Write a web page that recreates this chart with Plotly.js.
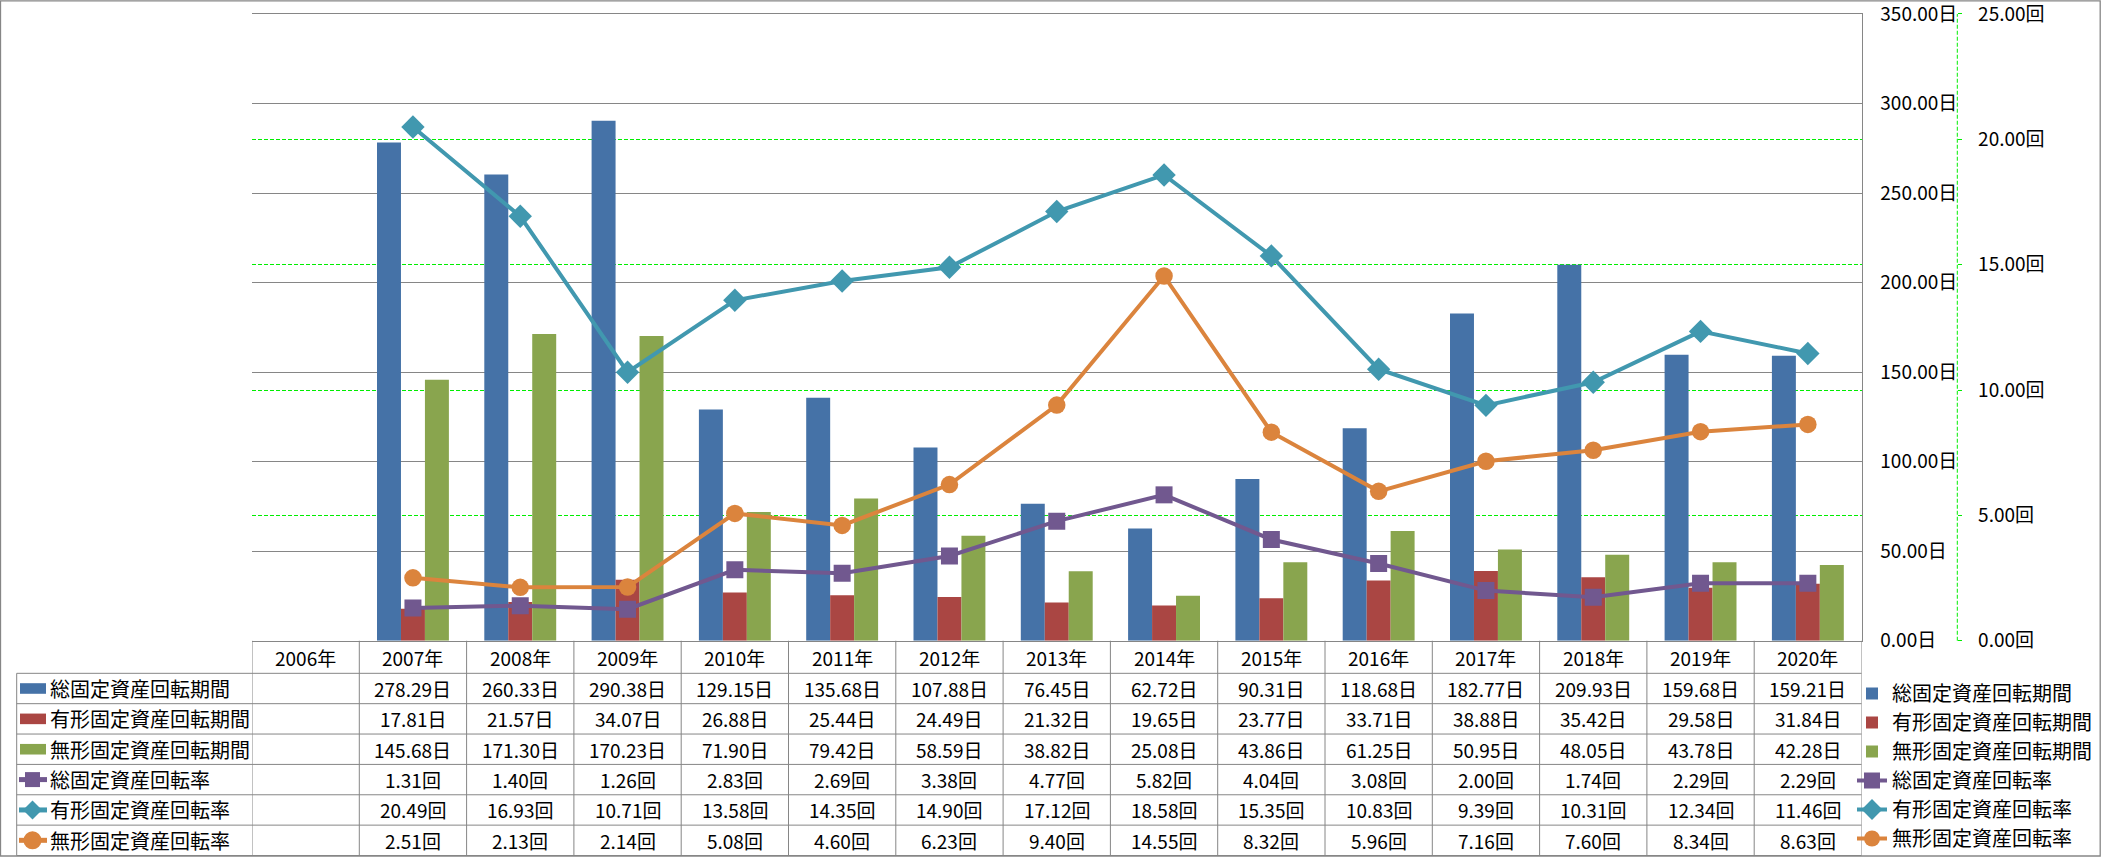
<!DOCTYPE html>
<html>
<head>
<meta charset="utf-8">
<script src="https://cdn.plot.ly/plotly-3.0.1.min.js"></script>
<style>html,body{margin:0;padding:0;background:#fff;}#chart{width:2101px;height:858px;}</style>
</head>
<body>
<div id="chart"></div>
<script>
// ---------- data ----------
const categories = ['2006年','2007年','2008年','2009年','2010年','2011年','2012年','2013年','2014年','2015年','2016年','2017年','2018年','2019年','2020年'];
const seriesNames = ['総固定資産回転期間','有形固定資産回転期間','無形固定資産回転期間','総固定資産回転率','有形固定資産回転率','無形固定資産回転率'];
const totalDays        = [null,278.29,260.33,290.38,129.15,135.68,107.88,76.45,62.72,90.31,118.68,182.77,209.93,159.68,159.21];
const tangibleDays     = [null,17.81,21.57,34.07,26.88,25.44,24.49,21.32,19.65,23.77,33.71,38.88,35.42,29.58,31.84];
const intangibleDays   = [null,145.68,171.30,170.23,71.90,79.42,58.59,38.82,25.08,43.86,61.25,50.95,48.05,43.78,42.28];
const totalTurnover    = [null,1.31,1.40,1.26,2.83,2.69,3.38,4.77,5.82,4.04,3.08,2.00,1.74,2.29,2.29];
const tangibleTurnover = [null,20.49,16.93,10.71,13.58,14.35,14.90,17.12,18.58,15.35,10.83,9.39,10.31,12.34,11.46];
const intangibleTurnover=[null,2.51,2.13,2.14,5.08,4.60,6.23,9.40,14.55,8.32,5.96,7.16,7.60,8.34,8.63];
const dayTicks   = [0, 50, 100, 150, 200, 250, 300, 350];
const timesTicks = [0, 5, 10, 15, 20, 25];
const dayUnit = '日';
const timesUnit = '回';

// ---------- styling ----------
const W = 2101, H = 858;
const FONT = '"Noto Sans CJK JP", "Noto Sans", sans-serif';
const GRAY = '#868686';
const GREEN = '#00EE00';
const colors = ['#4572A7','#AA4643','#89A54E','#71588F','#4198AF','#DB843D'];
const px = x => x / W;
const py = y => 1 - y / H;

const plotLeft = 252, plotRight = 1861.5, plotTop = 14, plotBottom = 641.5;
const tableLeft = 16.7, headerH = 32.6, rowH = 30.4;
const edges = [plotBottom];
edges.push(plotBottom + headerH);
for (let i = 0; i < 6; i++) edges.push(edges[edges.length - 1] + rowH);

const barSeries = [totalDays, tangibleDays, intangibleDays];
const lineSeries = [totalTurnover, tangibleTurnover, intangibleTurnover];
const lineSymbols = ['square','diamond','circle'];
const lineSizes = [17, 18, 17.5];

const traces = [];
barSeries.forEach((vals, i) => {
  traces.push({
    type: 'bar', name: seriesNames[i], x: categories, y: vals,
    marker: {color: colors[i]}, yaxis: 'y', legendgroup: 'g' + i,
    hoverinfo: 'skip'
  });
});
lineSeries.forEach((vals, i) => {
  traces.push({
    type: 'scatter', mode: 'lines+markers', name: seriesNames[3 + i], x: categories, y: vals,
    yaxis: 'y2', line: {color: colors[3 + i], width: 4},
    marker: {symbol: lineSymbols[i], size: lineSizes[i], color: colors[3 + i]},
    legendgroup: 'g' + (3 + i), hoverinfo: 'skip'
  });
});

// ---------- data table (annotations + shapes) ----------
const annotations = [];
const shapes = [];
const rowCenter = r => py((edges[r] + edges[r + 1]) / 2);

categories.forEach(c => {
  annotations.push({xref: 'x', yref: 'paper', x: c, y: rowCenter(0), text: c, showarrow: false,
    xanchor: 'center', yanchor: 'middle', font: {family: FONT, size: 19, color: '#000'}});
});
const allSeries = [totalDays, tangibleDays, intangibleDays, totalTurnover, tangibleTurnover, intangibleTurnover];
allSeries.forEach((vals, s) => {
  const unit = s < 3 ? dayUnit : timesUnit;
  annotations.push({xref: 'paper', yref: 'paper', x: px(48), y: rowCenter(s + 1), text: seriesNames[s],
    showarrow: false, xanchor: 'left', yanchor: 'middle', font: {family: FONT, size: 20, color: '#000'}});
  vals.forEach((v, i) => {
    if (v === null) return;
    annotations.push({xref: 'x', yref: 'paper', x: categories[i], y: rowCenter(s + 1), text: v.toFixed(2) + unit,
      showarrow: false, xanchor: 'center', yanchor: 'middle', font: {family: FONT, size: 19, color: '#000'}});
  });
});

// table grid lines
for (let r = 1; r < edges.length; r++) {
  shapes.push({type: 'line', xref: 'paper', yref: 'paper', x0: px(tableLeft), x1: px(plotRight),
    y0: py(edges[r]), y1: py(edges[r]), line: {color: GRAY, width: 1}});
}
shapes.push({type: 'line', xref: 'paper', yref: 'paper', x0: px(tableLeft), x1: px(tableLeft),
  y0: py(edges[1]), y1: py(edges[edges.length - 1]), line: {color: GRAY, width: 1}});
for (let k = 0; k <= categories.length; k++) {
  shapes.push({type: 'line', xref: 'x', yref: 'paper', x0: k - 0.5, x1: k - 0.5,
    y0: py(edges[0]), y1: py(edges[edges.length - 1]), line: {color: GRAY, width: 1}});
}
// legend keys inside the table's first column
const keyL = 19, keyR = 46, keyC = 32.5;
for (let s = 0; s < 6; s++) {
  const cy = (edges[s + 1] + edges[s + 2]) / 2;
  if (s < 3) {
    shapes.push({type: 'rect', xref: 'paper', yref: 'paper', x0: px(keyL + 1), x1: px(keyR), y0: py(cy - 5.3), y1: py(cy + 5.3),
      fillcolor: colors[s], line: {width: 0}});
  } else {
    shapes.push({type: 'line', xref: 'paper', yref: 'paper', x0: px(keyL), x1: px(keyR + 1), y0: py(cy), y1: py(cy),
      line: {color: colors[s], width: 5}});
    if (s === 3) {
      shapes.push({type: 'rect', xref: 'paper', yref: 'paper', x0: px(keyC - 7.5), x1: px(keyC + 7.5), y0: py(cy - 7.5), y1: py(cy + 7.5),
        fillcolor: colors[s], line: {width: 0}});
    } else if (s === 4) {
      const d = 9.5;
      shapes.push({type: 'path', xref: 'paper', yref: 'paper',
        path: `M ${px(keyC - d)},${py(cy)} L ${px(keyC)},${py(cy - d)} L ${px(keyC + d)},${py(cy)} L ${px(keyC)},${py(cy + d)} Z`,
        fillcolor: colors[s], line: {width: 0}});
    } else {
      shapes.push({type: 'circle', xref: 'paper', yref: 'paper', x0: px(keyC - 9), x1: px(keyC + 9), y0: py(cy - 9), y1: py(cy + 9),
        fillcolor: colors[s], line: {width: 0}});
    }
  }
}
// secondary axis dashed line
shapes.push({type: 'line', xref: 'paper', yref: 'paper', x0: px(1957.3), x1: px(1957.3), y0: py(plotBottom), y1: py(plotTop),
  line: {color: GREEN, width: 1, dash: '4px,2px'}});
// outer chart border
shapes.push({type: 'rect', xref: 'paper', yref: 'paper', x0: px(0.5), x1: px(W - 0.8), y0: py(857), y1: py(0.8),
  line: {color: GRAY, width: 1.3}, fillcolor: 'rgba(0,0,0,0)'});

const layout = {
  width: W, height: H, autosize: false,
  margin: {l: 0, r: 0, t: 0, b: 0, pad: 0},
  paper_bgcolor: '#fff', plot_bgcolor: 'rgba(0,0,0,0)',
  font: {family: FONT, size: 19, color: '#000'},
  barmode: 'group', bargap: 0.33, bargroupgap: 0,
  showlegend: true,
  legend: {x: px(1852), xanchor: 'left', y: py(edges[1] + 1), yanchor: 'top', bgcolor: 'rgba(0,0,0,0)',
    font: {family: FONT, size: 20, color: '#000'}, tracegroupgap: 1.4, traceorder: 'normal', itemclick: false},
  xaxis: {type: 'category', categoryorder: 'array', categoryarray: categories, range: [-0.5, categories.length - 0.5],
    domain: [px(plotLeft), px(plotRight)], showticklabels: false, ticks: '', showgrid: false,
    showline: true, mirror: true, linecolor: GRAY, linewidth: 1, zeroline: false, fixedrange: true},
  yaxis: {domain: [py(plotBottom), py(plotTop)], range: [0, 350], tickmode: 'array', tickvals: dayTicks,
    ticktext: dayTicks.map(v => v.toFixed(2) + dayUnit), side: 'right', anchor: 'x',
    showline: true, linecolor: GRAY, linewidth: 1, gridcolor: GRAY, gridwidth: 1, zeroline: false, ticks: '',
    ticklabeloverflow: 'allow',
    tickfont: {family: FONT, size: 19, color: '#000'}, ticklabelstandoff: 14, fixedrange: true},
  yaxis2: {overlaying: 'y', side: 'right', anchor: 'free', position: px(1957.3), range: [0, 25],
    tickmode: 'array', tickvals: timesTicks, ticktext: timesTicks.map(v => v.toFixed(2) + timesUnit),
    showline: false, showgrid: true, gridcolor: GREEN, gridwidth: 1, griddash: '4px,2px', zeroline: false,
    ticks: 'outside', ticklen: 4, tickcolor: GREEN, tickwidth: 1, ticklabeloverflow: 'allow',
    tickfont: {family: FONT, size: 19, color: '#000'}, ticklabelstandoff: 12, fixedrange: true},
  annotations: annotations,
  shapes: shapes
};

Plotly.newPlot('chart', traces, layout, {staticPlot: true, displayModeBar: false});
</script>
</body>
</html>
